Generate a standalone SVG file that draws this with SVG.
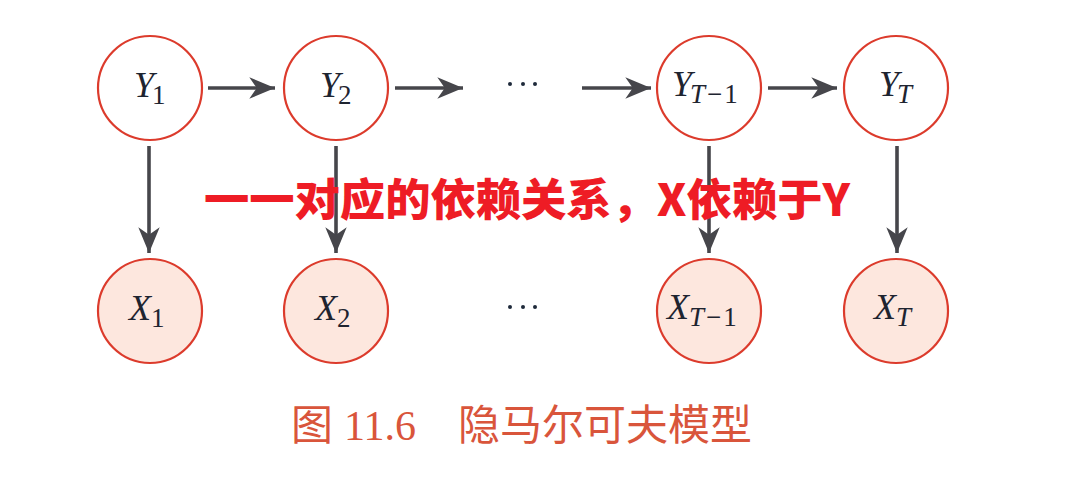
<svg xmlns="http://www.w3.org/2000/svg" width="1070" height="498" viewBox="0 0 1070 498">
<defs>
<style>
.node{stroke:#dc3b2c;stroke-width:2.2;}
.y{fill:#ffffff;}
.x{fill:#fde7de;}
.lbl{font-family:"Liberation Serif","DejaVu Serif",serif;font-style:italic;font-size:36px;fill:#1e2430;}
.sub{font-size:27px;font-style:normal;}
.subi{font-size:27px;font-style:italic;}
.edge{stroke:#46464b;stroke-width:3.6;fill:none;}
.dots{fill:#1e2a3a;}
.note{font-family:"Noto Sans CJK SC","Noto Sans",sans-serif;font-weight:900;font-size:44px;fill:#ee1c25;}
.cap{font-family:"Liberation Serif","Noto Sans CJK SC",serif;font-size:42px;fill:#d9553b;}
</style>
<marker id="ah" markerUnits="userSpaceOnUse" markerWidth="30" markerHeight="30" viewBox="-26 -12 28 24" refX="0" refY="0" orient="auto">
<path d="M0,0 L-24,-10 L-17,0 L-24,10 Z" fill="#46464b"/>
</marker>
</defs>
<rect width="1070" height="498" fill="#ffffff"/>
<g id="connectors">
<line class="edge" x1="208" y1="88" x2="275" y2="88" marker-end="url(#ah)"/>
<line class="edge" x1="395" y1="88" x2="463" y2="88" marker-end="url(#ah)"/>
<line class="edge" x1="582" y1="88" x2="651" y2="88" marker-end="url(#ah)"/>
<line class="edge" x1="768" y1="88" x2="837" y2="88" marker-end="url(#ah)"/>
<line class="edge" x1="149" y1="146" x2="149" y2="253" marker-end="url(#ah)"/>
<line class="edge" x1="336" y1="146" x2="336" y2="253" marker-end="url(#ah)"/>
<line class="edge" x1="709" y1="146" x2="709" y2="253" marker-end="url(#ah)"/>
<line class="edge" x1="897" y1="146" x2="897" y2="253" marker-end="url(#ah)"/>
</g>
<g id="Y1"><circle class="node y" cx="150" cy="88" r="52"/><text class="lbl" x="134" y="97">Y<tspan class="sub" dx="-2" dy="7">1</tspan></text></g>
<g id="Y2"><circle class="node y" cx="336" cy="88" r="52"/><text class="lbl" x="320" y="97">Y<tspan class="sub" dx="-2" dy="7">2</tspan></text></g>
<g id="dotsY"><circle class="dots" cx="510" cy="84" r="2"/><circle class="dots" cx="523" cy="84" r="2"/><circle class="dots" cx="535" cy="84" r="2"/></g>
<g id="YT1"><circle class="node y" cx="709" cy="88" r="52"/><text class="lbl" x="672" y="96">Y<tspan class="subi" dx="-2" dy="7">T</tspan><tspan class="sub" dx="2">−</tspan><tspan class="sub" dx="2">1</tspan></text></g>
<g id="YT"><circle class="node y" cx="896" cy="88" r="52"/><text class="lbl" x="879" y="96">Y<tspan class="subi" dx="-2" dy="7">T</tspan></text></g>
<g id="X1"><circle class="node x" cx="150" cy="311" r="52"/><text class="lbl" x="129" y="320">X<tspan class="sub" dx="0" dy="7">1</tspan></text></g>
<g id="X2"><circle class="node x" cx="336" cy="311" r="52"/><text class="lbl" x="315" y="320">X<tspan class="sub" dx="0" dy="7">2</tspan></text></g>
<g id="dotsX"><circle class="dots" cx="510" cy="307" r="2"/><circle class="dots" cx="523" cy="307" r="2"/><circle class="dots" cx="535" cy="307" r="2"/></g>
<g id="XT1"><circle class="node x" cx="709" cy="311" r="52"/><text class="lbl" x="667" y="319">X<tspan class="subi" dx="0" dy="7">T</tspan><tspan class="sub" dx="2">−</tspan><tspan class="sub" dx="2">1</tspan></text></g>
<g id="XT"><circle class="node x" cx="896" cy="311" r="52"/><text class="lbl" x="874" y="319">X<tspan class="subi" dx="0" dy="7">T</tspan></text></g>
<text class="note" x="204" y="216" textLength="646" lengthAdjust="spacingAndGlyphs">一一对应的依赖关系，X依赖于Y</text>
<text class="cap" x="291" y="440">图<tspan x="344">11.6</tspan><tspan x="458">隐马尔可夫模型</tspan></text>
</svg>
